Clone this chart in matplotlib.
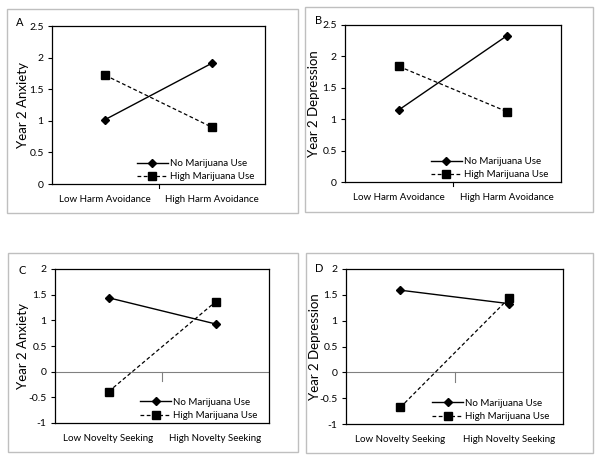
import matplotlib.pyplot as plt
from matplotlib.patches import Rectangle

plt.rcParams['font.family'] = ['Lato', 'DejaVu Sans']

W, H = 602, 462

# --- data ---
harm_cats = ["Low Harm Avoidance", "High Harm Avoidance"]
novelty_cats = ["Low Novelty Seeking", "High Novelty Seeking"]

anx_harm_no = [1.02, 1.91]
anx_harm_high = [1.72, 0.90]
dep_harm_no = [1.15, 2.33]
dep_harm_high = [1.84, 1.12]
anx_nov_no = [1.44, 0.93]
anx_nov_high = [-0.39, 1.36]
dep_nov_no = [1.59, 1.33]
dep_nov_high = [-0.68, 1.43]

series_names = ["No Marijuana Use", "High Marijuana Use"]


def px_rect(l, t, r, b):
    return [l / W, 1 - b / H, (r - l) / W, (b - t) / H]


def panel(fig, frame, box, letter, letter_xy, ylab, ylab_x, cats, no, high,
          ylim, yticks):
    # outer chart-area border
    fl, ft, fr, fb = frame
    fig.patches.append(Rectangle((fl / W, 1 - fb / H), (fr - fl) / W, (fb - ft) / H,
                                 transform=fig.transFigure, fill=False,
                                 edgecolor="#bfbfbf", linewidth=1.0))
    ax = fig.add_axes(px_rect(*box))
    xs = [0.5, 1.5]
    ax.plot(xs, no, color="black", lw=1.0, marker="D", ms=4.5, label=series_names[0])
    ax.plot(xs, high, color="black", lw=0.9, ls=(0, (3, 2)), marker="s", ms=6,
            label=series_names[1])
    ax.set_xlim(0, 2)
    ax.set_ylim(*ylim)
    ax.set_yticks(yticks)
    ax.set_yticklabels([f"{v:g}" for v in yticks])
    ax.set_xticks([0.5, 1.5])
    ax.set_xticklabels(cats)
    ax.tick_params(axis="x", length=0, pad=8, labelsize=7.0)
    ax.tick_params(axis="y", length=3, direction="out", labelsize=7.5, pad=3)
    for s in ax.spines.values():
        s.set_linewidth(0.9)
    if ylim[0] < 0:
        ax.axhline(0, color="#808080", lw=0.8, zorder=1)
        ax.plot([1, 1], [0, -0.06 * (ylim[1] - ylim[0])], color="#808080", lw=0.8,
                clip_on=False, zorder=1)
    else:
        ax.plot([1, 1], [0, -0.025 * (ylim[1] - ylim[0])], color="black", lw=0.8,
                clip_on=False)
    ax.set_ylabel(ylab, fontsize=9.5)
    # label anchor sits on the right edge of the rotated text
    ax.yaxis.set_label_coords((ylab_x + 6 - box[0]) / (box[2] - box[0]), 0.5)
    fig.text(letter_xy[0] / W, 1 - letter_xy[1] / H, letter, fontsize=8,
             ha="center", va="center")
    ax.legend(loc="lower left", bbox_to_anchor=(0.37, -0.02), frameon=False,
              fontsize=7.0, handlelength=3.2, handletextpad=0.2, labelspacing=0.45,
              borderaxespad=0.2)
    return ax


fig = plt.figure(figsize=(W / 100, H / 100), dpi=100)

panel(fig, (7, 9, 298, 213), (52, 26, 265, 184), "A", (20, 22), "Year 2 Anxiety", 23,
      harm_cats, anx_harm_no, anx_harm_high, (0, 2.5), [0, 0.5, 1, 1.5, 2, 2.5])
panel(fig, (305, 7, 593, 212), (345, 25, 561, 182), "B", (319, 20), "Year 2 Depression", 314,
      harm_cats, dep_harm_no, dep_harm_high, (0, 2.5), [0, 0.5, 1, 1.5, 2, 2.5])
panel(fig, (8, 253, 298, 452), (55, 269, 269, 423), "C", (22, 271), "Year 2 Anxiety", 23,
      novelty_cats, anx_nov_no, anx_nov_high, (-1, 2), [-1, -0.5, 0, 0.5, 1, 1.5, 2])
panel(fig, (306, 253, 593, 453), (346, 269, 563, 424), "D", (319, 269), "Year 2 Depression", 315,
      novelty_cats, dep_nov_no, dep_nov_high, (-1, 2), [-1, -0.5, 0, 0.5, 1, 1.5, 2])

fig.savefig("out.png", dpi=100)
